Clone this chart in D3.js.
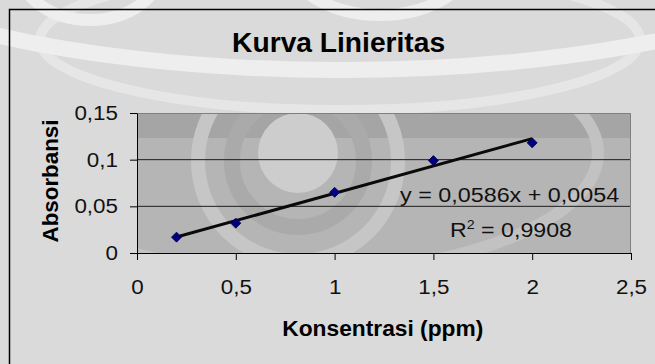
<!DOCTYPE html>
<html>
<head>
<meta charset="utf-8">
<script src="https://cdn.jsdelivr.net/npm/d3@7"></script>
<style>
  html, body { margin: 0; padding: 0; background: #dadada; }
  svg { display: block; font-family: "Liberation Sans", Arial, sans-serif; }
</style>
</head>
<body>
<div id="chart"></div>
<script>
// data
const konsentrasi = [0.2, 0.5, 1, 1.5, 2];
const absorbansi = [0.017, 0.032, 0.065, 0.099, 0.118];

const xTicks = [0, 0.5, 1, 1.5, 2, 2.5];
const xTickLabels = ['0', '0,5', '1', '1,5', '2', '2,5'];
const yTicks = [0, 0.05, 0.1, 0.15];
const yTickLabels = ['0', '0,05', '0,1', '0,15'];

// trendline as printed on the chart
const slope = 0.0586;
const intercept = 0.0054;
const rSquared = '0,9908';

const width = 655, height = 364;
const margin = { top: 113, right: 24, bottom: 111, left: 137 };

const svg = d3.select('#chart')
  .append('svg')
  .attr('width', width)
  .attr('height', height);

// page background + faint watermark
svg.append('rect').attr('width', width).attr('height', height).attr('fill', '#dadada');
const wm = svg.append('g').attr('fill', 'none').attr('stroke', '#f4f4f4').attr('opacity', 0.8);
wm.append('ellipse').attr('cx', 340).attr('cy', -95).attr('rx', 560).attr('ry', 165).attr('stroke-width', 16);
wm.append('ellipse').attr('cx', 90).attr('cy', -30).attr('rx', 70).attr('ry', 50).attr('stroke-width', 12);
wm.append('ellipse').attr('cx', 380).attr('cy', -40).attr('rx', 90).attr('ry', 55).attr('stroke-width', 12);
wm.append('ellipse').attr('cx', 340).attr('cy', 40).attr('rx', 300).attr('ry', 70).attr('stroke-width', 10).attr('opacity', 0.6);

// chart frame
svg.append('path')
  .attr('d', `M9.5,${height} V9.5 H${width}`)
  .attr('fill', 'none')
  .attr('stroke', '#000')
  .attr('stroke-width', 1.5);

const w = width - margin.left - margin.right;
const h = height - margin.top - margin.bottom;

const x = d3.scaleLinear().domain([0, 2.5]).range([0, w]);
const y = d3.scaleLinear().domain([0, 0.15]).range([h, 0]);

const chart = svg.append('g')
  .attr('transform', `translate(${margin.left}, ${margin.top})`);

// plot area
chart.append('clipPath').attr('id', 'plotclip')
  .append('rect').attr('width', w).attr('height', h);
chart.append('rect')
  .attr('width', w).attr('height', h)
  .attr('fill', '#b5b5b5');
const pw = chart.append('g').attr('clip-path', 'url(#plotclip)');
pw.append('rect').attr('x', 0).attr('y', 0).attr('width', w).attr('height', 25)
  .attr('fill', '#a5a5a5');
pw.append('circle').attr('cx', 161).attr('cy', 48).attr('r', 100)
  .attr('fill', 'none').attr('stroke', '#c6c6c6').attr('stroke-width', 14);
pw.append('circle').attr('cx', 161).attr('cy', 48).attr('r', 66)
  .attr('fill', 'none').attr('stroke', '#aaaaaa').attr('stroke-width', 16);
pw.append('circle').attr('cx', 161).attr('cy', 40).attr('r', 40).attr('fill', '#cdcdcd');
pw.append('ellipse').attr('cx', 161).attr('cy', 40).attr('rx', 300).attr('ry', 120)
  .attr('fill', 'none').attr('stroke', '#c2c2c2').attr('stroke-width', 12);

// gridlines
chart.append('g')
  .selectAll('line')
  .data(yTicks.filter(d => d > 0 && d < 0.15))
  .join('line')
  .attr('x1', 0).attr('x2', w)
  .attr('y1', d => y(d)).attr('y2', d => y(d))
  .attr('stroke', '#1e1e1e')
  .attr('stroke-width', 1);

// top and right border of plot area
chart.append('path')
  .attr('d', `M0,0.5 H${w - 0.5} V${h}`)
  .attr('fill', 'none')
  .attr('stroke', '#7f7f7f')
  .attr('stroke-width', 1);

const stretch = function (k) {
  return function () {
    d3.select(this)
      .attr('textLength', this.getComputedTextLength() * k)
      .attr('lengthAdjust', 'spacingAndGlyphs');
  };
};

// axes
const xAxis = chart.append('g')
  .attr('transform', `translate(0, ${h})`)
  .call(d3.axisBottom(x)
    .tickValues(xTicks)
    .tickFormat((d, i) => xTickLabels[i])
    .tickSize(7)
    .tickSizeOuter(0)
    .tickPadding(20));

const yAxis = chart.append('g')
  .call(d3.axisLeft(y)
    .tickValues(yTicks)
    .tickFormat((d, i) => yTickLabels[i])
    .tickSize(7)
    .tickSizeOuter(0)
    .tickPadding(12));

[xAxis, yAxis].forEach(ax => {
  ax.select('.domain').attr('stroke', '#000');
  ax.selectAll('.tick line').attr('stroke', '#000');
  ax.selectAll('.tick text')
    .attr('fill', '#111')
    .style('font-size', '20px')
    .style('font-family', '"Liberation Sans", Arial, sans-serif')
    .each(stretch(1.12));
});

// trendline
chart.append('line')
  .attr('x1', x(konsentrasi[0]))
  .attr('y1', y(slope * konsentrasi[0] + intercept))
  .attr('x2', x(konsentrasi[konsentrasi.length - 1]))
  .attr('y2', y(slope * konsentrasi[konsentrasi.length - 1] + intercept))
  .attr('stroke', '#0a0a0a')
  .attr('stroke-width', 3);

// points
chart.append('g')
  .selectAll('path')
  .data(konsentrasi.map((k, i) => ({ k, a: absorbansi[i] })))
  .join('path')
  .attr('d', d3.symbol().type(d3.symbolSquare).size(50))
  .attr('transform', d => `translate(${x(d.k)}, ${y(d.a)}) rotate(45)`)
  .attr('fill', '#000080')
  .attr('stroke', '#00004a')
  .attr('stroke-width', 0.8);

// equation text
chart.append('text')
  .attr('x', 509.6 - margin.left)
  .attr('y', 202.3 - margin.top)
  .attr('text-anchor', 'middle')
  .style('font-size', '19.5px')
  .attr('fill', '#111')
  .text(`y = ${String(slope).replace('.', ',')}x + ${String(intercept).replace('.', ',')}`)
  .attr('textLength', 219)
  .attr('lengthAdjust', 'spacingAndGlyphs');

const r2 = chart.append('text')
  .attr('x', 511 - margin.left)
  .attr('y', 236.7 - margin.top)
  .attr('text-anchor', 'middle')
  .style('font-size', '19.5px')
  .attr('fill', '#111')
  .attr('textLength', 122)
  .attr('lengthAdjust', 'spacingAndGlyphs');
r2.append('tspan').text('R');
r2.append('tspan').attr('dy', -8).style('font-size', '12px').text('2');
r2.append('tspan').attr('dy', 8).text(` = ${rSquared}`);

// titles
svg.append('text')
  .attr('x', 338.6)
  .attr('y', 52)
  .attr('text-anchor', 'middle')
  .style('font-size', '28.5px')
  .style('font-weight', 'bold')
  .attr('fill', '#000')
  .text('Kurva Linieritas')
  .attr('textLength', 213)
  .attr('lengthAdjust', 'spacingAndGlyphs');

svg.append('text')
  .attr('x', 382.8)
  .attr('y', 336)
  .attr('text-anchor', 'middle')
  .style('font-size', '22px')
  .style('font-weight', 'bold')
  .attr('fill', '#000')
  .text('Konsentrasi (ppm)')
  .attr('textLength', 201)
  .attr('lengthAdjust', 'spacingAndGlyphs');

svg.append('text')
  .attr('transform', 'translate(58, 181) rotate(-90)')
  .attr('text-anchor', 'middle')
  .style('font-size', '22px')
  .style('font-weight', 'bold')
  .attr('fill', '#000')
  .text('Absorbansi')
  .attr('textLength', 123)
  .attr('lengthAdjust', 'spacingAndGlyphs');
</script>
</body>
</html>
